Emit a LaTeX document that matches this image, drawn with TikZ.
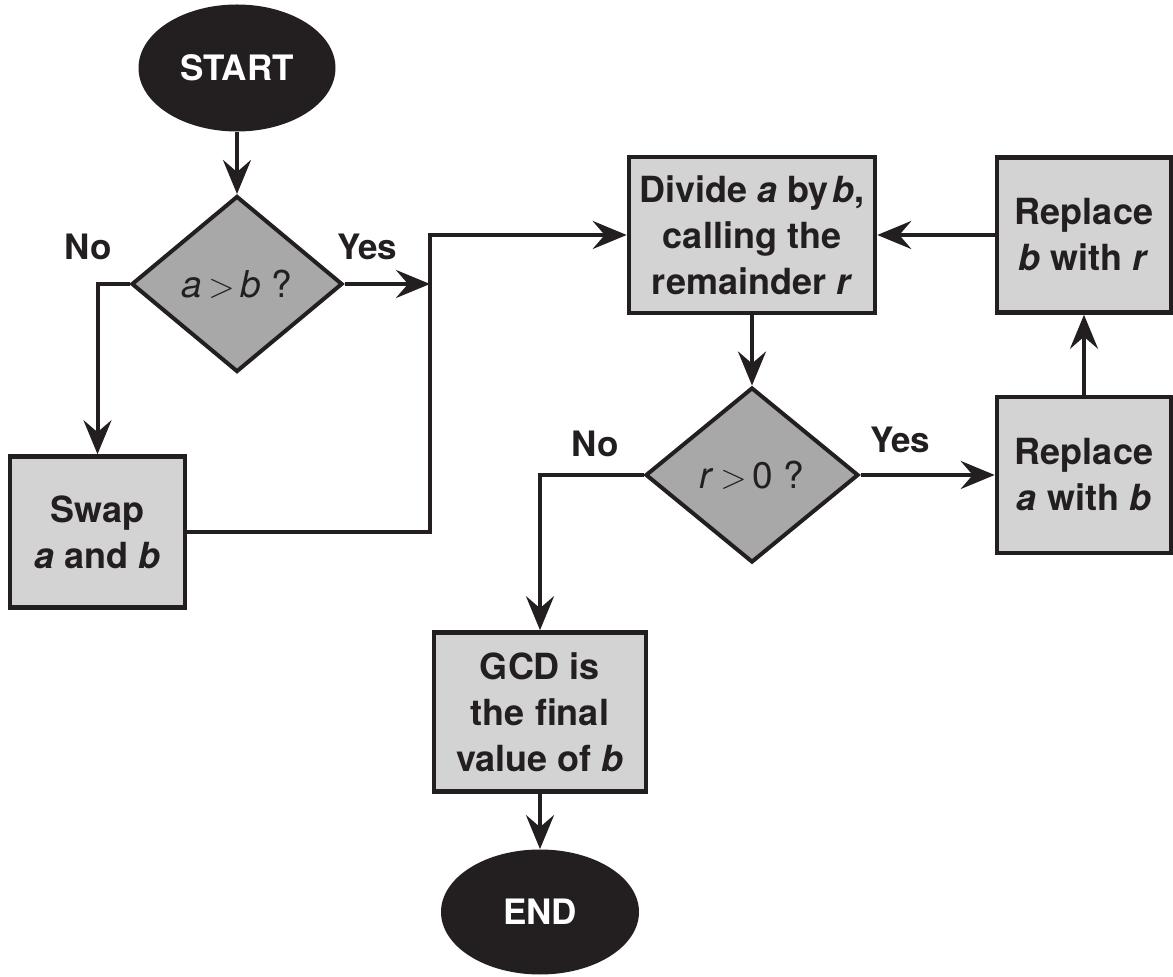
\documentclass[tikz,border=0pt]{standalone}
\usepackage{fontspec}
\setmainfont{TeX Gyre Heros}
\usetikzlibrary{shapes.geometric,arrows.meta}
\definecolor{inkC}{HTML}{231F20}
\definecolor{boxC}{HTML}{D3D3D3}
\definecolor{askC}{HTML}{A8A8A8}

\begin{document}
\begin{tikzpicture}
  [x=0.5pt,y=-0.5pt,
   termN/.style={ellipse,fill=inkC,text=white,inner sep=0pt,
     font=\fontsize{17.5}{21}\selectfont\bfseries},
   stepN/.style={rectangle,draw=inkC,fill=boxC,line width=2.3pt,
     align=center,inner sep=0pt,text=inkC,
     font=\fontsize{18}{23}\selectfont\bfseries},
   askN/.style={diamond,draw=inkC,fill=askC,line width=2pt,
     inner sep=0pt,text=inkC,font=\fontsize{18.5}{22}\selectfont},
   labN/.style={text=inkC,font=\fontsize{17.5}{21}\selectfont\bfseries},
   flow/.style={draw=inkC,line width=2pt,
     -{Stealth[length=17pt,width=14pt,inset=6pt]}}]

  \useasboundingbox (0,0) rectangle (1173,977);

  \node at (237,68)   [termN,minimum width=98.5pt,minimum height=63.5pt] (start) {START};
  \node at (237,284)  [askN,minimum width=105.5pt,minimum height=88pt]   (agtb)  {\textit{a}\,$>$\,\textit{b} ?};
  \node at (97.5,532) [stepN,minimum width=87.5pt,minimum height=75.5pt] (swap)  {Swap\\\textit{a} and \textit{b}};
  \node at (752,235)  [stepN,minimum width=123pt,minimum height=78pt]    (divide)
    {Divide \textit{a} by\hspace{0.12em}\textit{b},\\calling the\\remainder \textit{r}};
  \node at (1084,235) [stepN,minimum width=87pt,minimum height=77.5pt]   (repb)  {Replace\\\textit{b} with \textit{r}};
  \node at (752,475)  [askN,minimum width=106.5pt,minimum height=87.5pt] (rgt)   {\textit{r}\,$>$\,0 ?};
  \node at (1084,475) [stepN,minimum width=87pt,minimum height=78pt]     (repa)  {Replace\\\textit{a} with \textit{b}};
  \node at (540,712)  [stepN,minimum width=106pt,minimum height=79.5pt]  (gcd)   {GCD is\\the final\\value of \textit{b}};
  \node at (540,912)  [termN,minimum width=99pt,minimum height=62.5pt]   (end)   {END};

  \coordinate (join) at (430,284);

  % branch labels
  \node at (88,247)  [labN] (noA)  {No};
  \node at (367,247) [labN] (yesA) {Yes};
  \node at (595,444) [labN] (noB)  {No};
  \node at (900,440) [labN] (yesB) {Yes};

  \draw [flow] (start) -- (agtb);
  \draw [flow] (agtb.west) -| (swap.north);
  \draw [flow] (agtb.east) -- (join);
  \draw [flow] (swap.east) -| (join) |- (divide.west);
  \draw [flow] (divide) -- (rgt);
  \draw [flow] (rgt.east) -- (repa.west);
  \draw [flow] (repa) -- (repb);
  \draw [flow] (repb) -- (divide);
  \draw [flow] (rgt.west) -| (gcd.north);
  \draw [flow] (gcd) -- (end);
\end{tikzpicture}
\end{document}
